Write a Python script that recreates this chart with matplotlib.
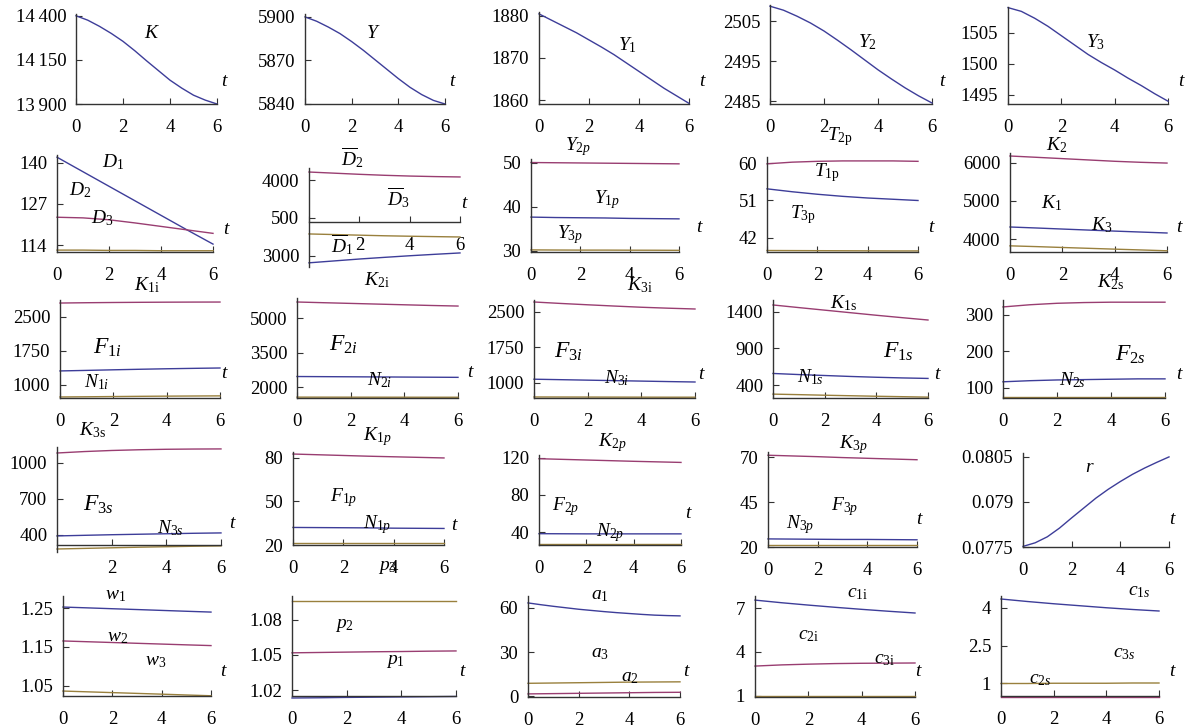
import matplotlib
matplotlib.use('Agg')
import matplotlib.pyplot as plt

plt.rcParams['font.family'] = 'Liberation Serif'
plt.rcParams['mathtext.fontset'] = 'custom'
plt.rcParams['mathtext.rm'] = 'Liberation Serif'
plt.rcParams['mathtext.it'] = 'Liberation Serif:italic'
plt.rcParams['mathtext.bf'] = 'Liberation Serif:bold'

W, H = 1191, 728
BLUE, MAG, OLV = '#3d3d99', '#993d71', '#99803d'
AXC = '#333333'

# time grids
t7 = [0, 1, 2, 3, 4, 5, 6]
th = [0, 0.5, 1, 1.5, 2, 2.5, 3, 3.5, 4, 4.5, 5, 5.5, 6]

# row 1: aggregates (half-step readings)
K_tot = [14400, 14375, 14340, 14300, 14255, 14202, 14145, 14090, 14035, 13990, 13950, 13922, 13900]
Y_tot = [5900, 5897, 5893, 5888.5, 5883, 5877, 5870.5, 5864, 5857.5, 5851.5, 5846.5, 5842.5, 5840]
Y1 = [1880.5, 1879, 1877.5, 1876, 1874.3, 1872.6, 1870.8, 1868.8, 1866.8, 1864.8, 1862.8, 1861, 1859.2]
Y2 = [2508.7, 2507.7, 2506.2, 2504.5, 2502.5, 2500.2, 2497.8, 2495.3, 2492.8, 2490.5, 2488.3, 2486.3, 2484.5]
Y3 = [1509, 1508.4, 1507.3, 1506, 1504.5, 1503, 1501.5, 1500.2, 1499, 1497.7, 1496.5, 1495.2, 1494]

# row 2
D1 = [141.8, 137.2, 132.6, 128.0, 123.4, 118.8, 114.3]
D2 = [122.8, 122.6, 122.0, 121.0, 119.9, 118.8, 117.7]
D3 = [112.4, 112.4, 112.3, 112.3, 112.2, 112.2, 112.2]
Db_mag = [4105, 4090, 4075, 4062, 4052, 4045, 4040]
Db_olv = [3290, 3282, 3274, 3266, 3260, 3255, 3250]
Db_blu = [2910, 2935, 2960, 2982, 3003, 3022, 3040]
Yp_mag = [50.1, 50.05, 50.0, 49.95, 49.9, 49.85, 49.8]
Yp_blu = [37.7, 37.6, 37.55, 37.5, 37.4, 37.35, 37.3]
Yp_olv = [30.25, 30.22, 30.2, 30.2, 30.18, 30.17, 30.15]
Tp_mag = [59.8, 60.2, 60.4, 60.5, 60.5, 60.5, 60.4]
Tp_blu = [53.8, 53.1, 52.5, 52.0, 51.6, 51.3, 51.0]
Tp_olv = [39.0, 38.98, 38.96, 38.94, 38.92, 38.9, 38.9]
Ks_mag = [6184, 6150, 6115, 6080, 6045, 6018, 5998]
Ks_blu = [4316, 4290, 4262, 4235, 4208, 4183, 4158]
Ks_olv = [3820, 3800, 3777, 3755, 3733, 3712, 3690]

# row 3
K1i = [2808, 2815, 2820, 2824, 2827, 2829, 2830]
N1i = [1310, 1322, 1335, 1347, 1358, 1367, 1375]
O1i = [736, 740, 745, 750, 754, 757, 760]
K2i = [5696, 5665, 5635, 5605, 5575, 5545, 5520]
N2i = [2456, 2450, 2444, 2438, 2432, 2426, 2420]
O2i = [1560, 1559, 1558, 1557, 1556, 1555, 1555]
K3i = [2711, 2680, 2652, 2625, 2600, 2580, 2563]
N3i = [1080, 1070, 1060, 1050, 1040, 1030, 1021]
O3i = [705, 704, 703, 702, 701, 700, 700]
K1s = [1496, 1460, 1425, 1390, 1355, 1322, 1290]
N1s = [558, 543, 530, 517, 506, 497, 490]
O1s = [275, 268, 260, 253, 246, 240, 234]
K2s = [322, 328, 332, 334, 335, 335, 335]
N2s = [117, 120, 122, 123, 124, 125, 125]
O2s = [74, 74, 74, 74, 74, 74, 74]

# row 4
K3s = [1083, 1095, 1104, 1110, 1114, 1116, 1117]
N3s = [392, 397, 402, 406, 410, 414, 417]
O3s = [283, 288, 293, 298, 302, 306, 309]
K1p = [82.7, 82.2, 81.7, 81.2, 80.8, 80.4, 80.0]
N1p = [32.1, 32.0, 31.9, 31.8, 31.6, 31.5, 31.4]
O1p = [21.7, 21.7, 21.7, 21.7, 21.7, 21.7, 21.7]
K2p = [119.0, 118.3, 117.6, 116.9, 116.2, 115.6, 115.0]
N2p = [38.2, 38.1, 38.0, 38.0, 38.0, 38.0, 38.0]
O2p = [27.0, 27.0, 27.0, 27.0, 27.0, 27.0, 27.0]
K3p = [71.0, 70.6, 70.2, 69.7, 69.3, 68.9, 68.5]
N3p = [24.5, 24.4, 24.3, 24.2, 24.2, 24.1, 24.0]
O3p = [21.0, 21.0, 21.0, 21.0, 21.0, 21.0, 21.0]
r = [0.07752, 0.07764, 0.07784, 0.07813, 0.07847, 0.0788, 0.07913,
     0.07942, 0.07968, 0.07992, 0.08013, 0.08032, 0.0805]

# row 5
w1 = [1.2526, 1.2505, 1.2483, 1.2462, 1.244, 1.2418, 1.2397]
w2 = [1.1655, 1.1635, 1.1615, 1.1595, 1.1575, 1.1555, 1.1536]
w3 = [1.0368, 1.0348, 1.0328, 1.0308, 1.0288, 1.0267, 1.0247]
p1 = [1.0517, 1.052, 1.0523, 1.0526, 1.0528, 1.0531, 1.0533]
p2 = [1.0133, 1.0135, 1.0138, 1.014, 1.0142, 1.0144, 1.0146]
p3 = [1.0958, 1.0958, 1.0958, 1.0958, 1.0958, 1.0958, 1.0958]
a1 = [63.4, 62.2, 61.1, 60.1, 59.1, 58.3, 57.5, 56.8, 56.2, 55.6, 55.1, 54.8, 54.6]
a2 = [8.8, 9.0, 9.2, 9.4, 9.6, 9.7, 9.8]
a3 = [1.6, 1.8, 2.0, 2.2, 2.4, 2.6, 2.7]
c1i = [7.54, 7.36, 7.2, 7.05, 6.91, 6.78, 6.66]
c3i = [3.04, 3.12, 3.17, 3.21, 3.23, 3.24, 3.25]
c2i = [1.03, 1.03, 1.03, 1.03, 1.03, 1.03, 1.03]
c1s = [4.36, 4.26, 4.17, 4.09, 4.01, 3.94, 3.88]
c2s = [0.98, 0.98, 0.99, 0.99, 0.99, 1.0, 1.0]
c3s = [0.44, 0.44, 0.44, 0.44, 0.44, 0.44, 0.44]

fig = plt.figure(figsize=(W / 100, H / 100), dpi=100)

TICK = 13.5
LAB = 14
BIG = 17
R5 = 3  # small downward shift of the bottom row


def txt(s, x, y, size=LAB):
    fig.text(x / W, 1 - y / H, s, ha='center', va='center', fontsize=size)


def panel(box, ylim, yticks, ylabs, series, texts, tpos, cross=None, xlabs=('0', '2', '4', '6')):
    x0, x6, ytop, ybot = box
    ax = fig.add_axes([x0 / W, 1 - ybot / H, (x6 - x0) / W, (ybot - ytop) / H])
    for vals, c in series:
        tt = th if len(vals) == len(th) else t7
        ax.plot(tt, vals, color=c, lw=1.0, clip_on=False)
    ax.set_xlim(0, 6)
    ax.set_ylim(*ylim)
    ax.set_xticks([0, 2, 4, 6])
    ax.set_xticklabels(xlabs)
    ax.set_yticks(yticks)
    ax.set_yticklabels(ylabs)
    ax.patch.set_visible(False)
    for s in ('top', 'right'):
        ax.spines[s].set_visible(False)
    for s in ('left', 'bottom'):
        ax.spines[s].set_color(AXC)
        ax.spines[s].set_linewidth(1.0)
    if cross is not None:
        ax.spines['bottom'].set_position(('data', cross))
    ax.tick_params(direction='in', length=4, width=0.8, color=AXC, labelsize=TICK)
    ax.tick_params(axis='x', pad=10.5)
    ax.tick_params(axis='y', pad=7)
    for s, x, y, *sz in texts:
        txt(s, x, y, sz[0] if sz else LAB)
    txt('$t$', tpos[0], tpos[1])
    return ax


TS = '\u2009'

# ---------------- row 1
panel((76, 217, 14, 104), (13900, 14410), [13900, 14150, 14400],
      ['13' + TS + '900', '14' + TS + '150', '14' + TS + '400'],
      [(K_tot, BLUE)], [('$K$', 152, 33)], (225, 81))
panel((305, 445, 14, 104), (5840, 5902), [5840, 5870, 5900], ['5840', '5870', '5900'],
      [(Y_tot, BLUE)], [('$Y$', 373, 33)], (453, 81))
panel((539, 689, 12, 104), (1859.05, 1880.95), [1860, 1870, 1880], ['1860', '1870', '1880'],
      [(Y1, BLUE)], [('$Y_1$', 627, 45)], (703, 81))
panel((770, 932, 5, 104), (2484.25, 2509.0), [2485, 2495, 2505], ['2485', '2495', '2505'],
      [(Y2, BLUE)], [('$Y_2$', 867, 42)], (943, 81))
panel((1008, 1168, 7, 104), (1493.55, 1509.1), [1495, 1500, 1505], ['1495', '1500', '1505'],
      [(Y3, BLUE)], [('$Y_3$', 1096, 42)], (1182, 81))

# ---------------- row 2
panel((57, 213, 155, 252), (111.8, 142.5), [114, 127, 140], ['114', '127', '140'],
      [(D1, BLUE), (D2, MAG), (D3, OLV)],
      [('$D_1$', 113, 162), ('$D_2$', 80, 190), ('$D_3$', 102, 218)], (227, 230))
panel((309, 460, 168, 267), (2855, 4158), [3000, 3500, 4000], ['3000', '500', '4000'],
      [(Db_mag, MAG), (Db_olv, OLV), (Db_blu, BLUE)],
      [(r'$\overline{D}_2$', 352, 158), (r'$\overline{D}_3$', 398, 198), (r'$\overline{D}_1$', 342, 245)],
      (465, 203), cross=3447, xlabs=('', '2', '4', '6'))
panel((531, 679, 159, 252), (29.77, 50.9), [30, 40, 50], ['30', '40', '50'],
      [(Yp_mag, MAG), (Yp_blu, BLUE), (Yp_olv, OLV)],
      [('$Y_{2p}$', 578, 147), ('$Y_{1p}$', 607, 200), ('$Y_{3p}$', 570, 235)], (700, 228))
panel((767, 918, 157, 252), (38.64, 61.44), [42, 51, 60], ['42', '51', '60'],
      [(Tp_mag, MAG), (Tp_blu, BLUE), (Tp_olv, OLV)],
      [(r'$T_{2\mathrm{p}}$', 840, 137), (r'$T_{1\mathrm{p}}$', 827, 173), (r'$T_{3\mathrm{p}}$', 803, 215)],
      (932, 228))
panel((1010, 1167, 153, 252), (3658, 6263), [4000, 5000, 6000], ['4000', '5000', '6000'],
      [(Ks_mag, MAG), (Ks_blu, BLUE), (Ks_olv, OLV)],
      [('$K_2$', 1057, 145), ('$K_1$', 1052, 203), ('$K_3$', 1102, 225)], (1180, 228))

# ---------------- row 3
panel((60, 220, 300, 398), (713, 2875), [1000, 1750, 2500], ['1000', '1750', '2500'],
      [(K1i, MAG), (N1i, BLUE), (O1i, OLV)],
      [(r'$K_{1\mathrm{i}}$', 147, 285), ('$F_{1i}$', 107, 348, BIG), ('$N_{1i}$', 97, 382)], (225, 374))
panel((297, 458, 298, 398), (1522, 5870), [2000, 3500, 5000], ['2000', '3500', '5000'],
      [(K2i, MAG), (N2i, BLUE), (O2i, OLV)],
      [(r'$K_{2\mathrm{i}}$', 377, 280), ('$F_{2i}$', 343, 345, BIG), ('$N_{2i}$', 380, 380)], (471, 373))
panel((534, 695, 300, 398), (683, 2753), [1000, 1750, 2500], ['1000', '1750', '2500'],
      [(K3i, MAG), (N3i, BLUE), (O3i, OLV)],
      [(r'$K_{3\mathrm{i}}$', 640, 285), ('$F_{3i}$', 568, 352, BIG), ('$N_{3i}$', 617, 378)], (702, 375))
panel((773, 928, 300, 398), (222, 1564), [400, 900, 1400], ['400', '900', '1400'],
      [(K1s, MAG), (N1s, BLUE), (O1s, OLV)],
      [(r'$K_{1\mathrm{s}}$', 843, 303), ('$F_{1s}$', 898, 352, BIG), ('$N_{1s}$', 810, 377)], (938, 375))
panel((1003, 1165, 300, 398), (72.6, 341), [100, 200, 300], ['100', '200', '300'],
      [(K2s, MAG), (N2s, BLUE), (O2s, OLV)],
      [(r'$K_{2\mathrm{s}}$', 1110, 282), ('$F_{2s}$', 1130, 355, BIG), ('$N_{2s}$', 1072, 380)], (1180, 375))

# ---------------- row 4
panel((57, 221, 447, 552), (258, 1133), [400, 700, 1000], ['400', '700', '1000'],
      [(K3s, MAG), (N3s, BLUE), (O3s, OLV)],
      [(r'$K_{3\mathrm{s}}$', 92, 430), ('$F_{3s}$', 98, 505, BIG), ('$N_{3s}$', 170, 528)], (233, 523),
      cross=317, xlabs=('', '2', '4', '6'))
panel((293, 444, 452, 545), (20, 84.1), [20, 50, 80], ['20', '50', '80'],
      [(K1p, MAG), (N1p, BLUE), (O1p, OLV)],
      [('$K_{1p}$', 377, 437), ('$F_{1p}$', 344, 498), ('$N_{1p}$', 377, 525)], (455, 525))
panel((539, 681, 455, 545), (26, 123), [40, 80, 120], ['40', '80', '120'],
      [(K2p, MAG), (N2p, BLUE), (O2p, OLV)],
      [('$K_{2p}$', 612, 443), ('$F_{2p}$', 566, 507), ('$N_{2p}$', 610, 533)], (689, 513))
panel((768, 917, 452, 547), (20, 72.8), [20, 45, 70], ['20', '45', '70'],
      [(K3p, MAG), (N3p, BLUE), (O3p, OLV)],
      [('$K_{3p}$', 853, 445), ('$F_{3p}$', 845, 507), ('$N_{3p}$', 800, 525)], (920, 520))
panel((1023, 1169, 453, 547), (0.0775, 0.08063), [0.0775, 0.079, 0.0805], ['0.0775', '0.079', '0.0805'],
      [(r, BLUE)], [('$r$', 1090, 467)], (1173, 520))

# ---------------- row 5
panel((63, 211, 593 + R5, 693 + R5), (1.0241, 1.281), [1.05, 1.15, 1.25], ['1.05', '1.15', '1.25'],
      [(w1, BLUE), (w2, MAG), (w3, OLV)],
      [('$w_1$', 116, 593 + R5), ('$w_2$', 118, 634 + R5), ('$w_3$', 156, 658 + R5)], (224, 669 + R5))
panel((292, 456, 593 + R5, 693 + R5), (1.015, 1.1), [1.02, 1.05, 1.08], ['1.02', '1.05', '1.08'],
      [(p3, OLV), (p1, MAG), (p2, BLUE)],
      [('$p_3$', 388, 567), ('$p_2$', 345, 622 + R5), ('$p_1$', 395, 658 + R5)], (463, 668 + R5))
panel((528, 680, 593 + R5, 694 + R5), (-0.5, 68.1), [0, 30, 60], ['0', '30', '60'],
      [(a1, BLUE), (a2, OLV), (a3, MAG)],
      [('$a_1$', 600, 592 + R5), ('$a_3$', 600, 650 + R5), ('$a_2$', 630, 675 + R5)], (687, 668 + R5))
panel((755, 915, 593 + R5, 694 + R5), (0.93, 7.82), [1, 4, 7], ['1', '4', '7'],
      [(c1i, BLUE), (c3i, MAG), (c2i, OLV)],
      [(r'$c_{1\mathrm{i}}$', 858, 590 + R5), (r'$c_{2\mathrm{i}}$', 809, 633 + R5),
       (r'$c_{3\mathrm{i}}$', 885, 657 + R5)],
      (919, 668 + R5))
panel((1001, 1159, 593 + R5, 693 + R5), (0.48, 4.48), [1, 2.5, 4], ['1', '2.5', '4'],
      [(c1s, BLUE), (c2s, OLV), (c3s, MAG)],
      [('$c_{1s}$', 1139, 588 + R5), ('$c_{3s}$', 1124, 650 + R5), ('$c_{2s}$', 1040, 677 + R5)],
      (1173, 668 + R5))

fig.savefig('out.png', dpi=100)
